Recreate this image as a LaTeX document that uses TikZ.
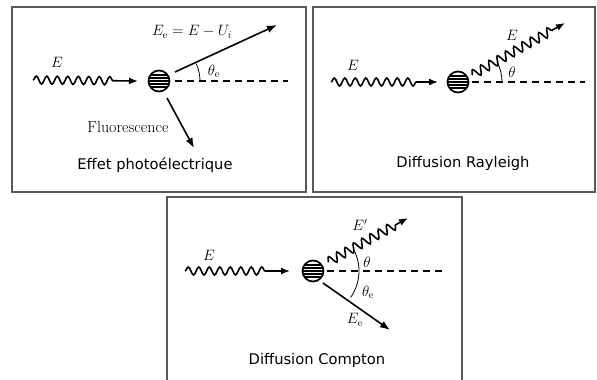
\documentclass[tikz,border=0pt]{standalone}
\usepackage{fix-cm}
\usepackage{fontspec}
\newfontfamily\titlefont{DejaVu Sans}
\usetikzlibrary{decorations.pathmorphing,arrows.meta}
\begin{document}
\begin{tikzpicture}[x=1pt,y=1pt,
  panel/.style={draw=black!65, line width=1.1pt},
  atom/.style={circle, draw, line width=1.7pt, minimum size=21pt, inner sep=0pt,
    path picture={\foreach \d in {-6,-3,0,3,6}{\draw[line width=1.5pt] ([xshift=-12pt,yshift=\d pt]path picture bounding box.center) -- ++(24pt,0);}}},
  wave/.style={line width=1.6pt, decorate, decoration={snake, amplitude=4pt, segment length=10.5pt, post length=20pt}, -{Latex[length=9pt,width=7pt]}},
  swave/.style={line width=1.6pt, decorate, decoration={snake, amplitude=4.5pt, segment length=9.5pt, post length=14pt}, -{Latex[length=9pt,width=7pt]}},
  arr/.style={line width=1.6pt, -{Latex[length=10pt,width=7.5pt]}},
  dashline/.style={line width=1.1pt, dash pattern=on 7pt off 5pt},
  anglearc/.style={line width=0.8pt},
  lbl/.style={font=\fontsize{15}{18}\selectfont, inner sep=0pt},
  ptitle/.style={font=\titlefont\fontsize{14.7}{17}\selectfont, inner sep=0pt}
]
\useasboundingbox (0,-380) rectangle (597,0);

% panels
\draw[panel] (12,-7) rectangle (306,-192);
\draw[panel] (313,-7) rectangle (595,-192);
\draw[panel] (167,-380) -- (167,-197) -- (462,-197) -- (462,-380);

% ---------- Panel 1: photoelectric ----------
\node[atom] (a1) at (159,-81) {};
\coordinate (w1s) at (33,-80);
\coordinate (w1e) at (138,-81);
\draw[wave] (w1s) -- (w1e);
\node[lbl] (E1) at (57,-62) {$E$};
\coordinate (d1s) at (175,-81);
\coordinate (d1e) at (288,-81);
\draw[dashline] (d1s) -- (d1e);
\coordinate (e1s) at (175,-72);
\coordinate (e1e) at (277,-25);
\draw[arr] (e1s) -- (e1e);
\draw[anglearc] (a1.center) ++(41,0) arc[start angle=0, end angle=25, radius=41];
\node[lbl] (th1) at (214,-71) {$\theta_{\mathrm{e}}$};
\node[lbl] (Ee1) at (192,-32) {$E_{\mathrm{e}} = E - U_i$};
\coordinate (f1s) at (167,-98);
\coordinate (f1e) at (194,-148);
\draw[arr] (f1s) -- (f1e);
\node[lbl, font=\fontsize{16}{19}\selectfont] (fl) at (128,-127) {Fluorescence};
\node[ptitle] (t1) at (155,-165) {Effet photoélectrique};

% ---------- Panel 2: Rayleigh ----------
\node[atom] (a2) at (458,-82) {};
\coordinate (w2s) at (331,-82);
\coordinate (w2e) at (438,-82);
\draw[wave] (w2s) -- (w2e);
\node[lbl] (E2) at (353,-65) {$E$};
\coordinate (d2s) at (472,-82);
\coordinate (d2e) at (585,-82);
\draw[dashline] (d2s) -- (d2e);
\coordinate (s2s) at (472,-75);
\coordinate (s2e) at (565,-23);
\draw[swave] (s2s) -- (s2e);
\node[lbl] (E2b) at (512,-35) {$E$};
\draw[anglearc] (a2.center) ++(44,0) arc[start angle=0, end angle=27, radius=44];
\node[lbl] (th2) at (512,-72) {$\theta$};
\node[ptitle] (t2) at (463,-163) {Diffusion Rayleigh};

% ---------- Panel 3: Compton ----------
\node[atom] (a3) at (313,-271) {};
\coordinate (w3s) at (185,-271);
\coordinate (w3e) at (290,-271);
\draw[wave] (w3s) -- (w3e);
\node[lbl] (E3) at (209,-255) {$E$};
\coordinate (d3s) at (327,-271);
\coordinate (d3e) at (443,-271);
\draw[dashline] (d3s) -- (d3e);
\coordinate (s3s) at (328,-262);
\coordinate (s3e) at (408,-218);
\draw[swave] (s3s) -- (s3e);
\node[lbl] (E3b) at (360,-225) {$E'$};
\draw[anglearc] (a3.center) ++(27:46) arc[start angle=27, end angle=-35, radius=46];
\node[lbl] (th3) at (367,-262) {$\theta$};
\node[lbl] (th3e) at (368,-292) {$\theta_{\mathrm{e}}$};
\coordinate (e3s) at (323,-283);
\coordinate (e3e) at (390,-330);
\draw[arr] (e3s) -- (e3e);
\node[lbl] (Ee3) at (355,-320) {$E_{\mathrm{e}}$};
\node[ptitle] (t3) at (317,-360) {Diffusion Compton};
\end{tikzpicture}
\end{document}
